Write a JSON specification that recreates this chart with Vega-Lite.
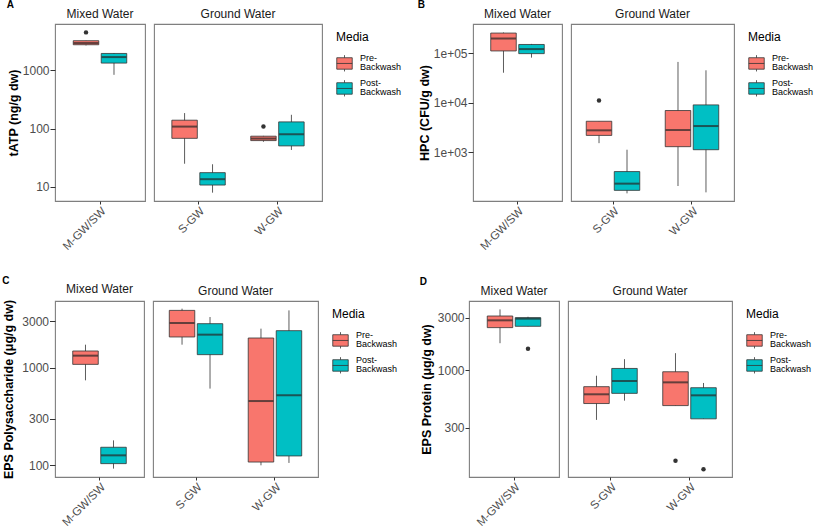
{
 "$schema": "https://vega.github.io/schema/vega-lite/v6.json",
 "padding": {"left": 2, "top": 0, "right": 0, "bottom": 0},
 "config": {
  "font": "Liberation Sans",
  "view": {"stroke": "#7F7F7F", "strokeWidth": 1.1},
  "rule": {"color": "#333333", "strokeWidth": 0.8},
  "tick": {"color": "#262626", "thickness": 2, "size": 25},
  "bar": {"stroke": "#333333", "strokeWidth": 0.8},
  "point": {"filled": true, "color": "#333333", "size": 20, "opacity": 1},
  "style": {"guide-label": {"lineHeight": 9}},
  "axisX": {"labelAngle": -45, "labelFontSize": 11.5, "labelColor": "#4D4D4D", "tickColor": "#333333", "tickSize": 3, "domain": false, "grid": false, "title": null, "labelPadding": 1},
  "axisY": {"labelFontSize": 12, "labelColor": "#4D4D4D", "tickColor": "#333333", "tickSize": 5, "domain": false, "grid": false, "titleFontSize": 12.5, "titleFontWeight": "bold", "titleColor": "#000000", "labelPadding": 1, "titlePadding": 2},
  "legend": {"titleFontSize": 12, "titleFontWeight": "normal", "titleColor": "#000000", "labelFontSize": 9, "labelColor": "#000000", "symbolType": "M-1,0.03H1V1.51H-1Z M-1,0.77H1 M0,0.03V-0.3 M0,1.51V1.8", "symbolSize": 240, "symbolStrokeColor": "#333333", "symbolStrokeWidth": 0.8, "symbolOpacity": 1, "offset": 6, "padding": 8, "labelOffset": 7, "titlePadding": 5}
 },
 "datasets": {
  "boxes": [
   {"p": "A", "w": "Mixed Water", "site": "M-GW/SW", "media": "Pre-Backwash", "lo": 2640, "q1": 2717, "med": 2904, "q3": 3185, "hi": 3185},
   {"p": "A", "w": "Mixed Water", "site": "M-GW/SW", "media": "Post-Backwash", "lo": 830, "q1": 1318, "med": 1670, "q3": 1927, "hi": 1960},
   {"p": "A", "w": "Ground Water", "site": "S-GW", "media": "Pre-Backwash", "lo": 25, "q1": 68, "med": 108, "q3": 139, "hi": 184},
   {"p": "A", "w": "Ground Water", "site": "S-GW", "media": "Post-Backwash", "lo": 8, "q1": 10.8, "med": 13.6, "q3": 17.6, "hi": 24.5},
   {"p": "A", "w": "Ground Water", "site": "W-GW", "media": "Pre-Backwash", "lo": 59.4, "q1": 62.2, "med": 67.4, "q3": 74, "hi": 75},
   {"p": "A", "w": "Ground Water", "site": "W-GW", "media": "Post-Backwash", "lo": 43, "q1": 50.5, "med": 80, "q3": 130, "hi": 172},
   {"p": "B", "w": "Mixed Water", "site": "M-GW/SW", "media": "Pre-Backwash", "lo": 40300, "q1": 111000, "med": 198000, "q3": 255000, "hi": 262000},
   {"p": "B", "w": "Mixed Water", "site": "M-GW/SW", "media": "Post-Backwash", "lo": 81300, "q1": 98000, "med": 121000, "q3": 150000, "hi": 154000},
   {"p": "B", "w": "Ground Water", "site": "S-GW", "media": "Pre-Backwash", "lo": 1520, "q1": 2180, "med": 2760, "q3": 4210, "hi": 4210},
   {"p": "B", "w": "Ground Water", "site": "S-GW", "media": "Post-Backwash", "lo": 147, "q1": 169, "med": 231, "q3": 405, "hi": 1120},
   {"p": "B", "w": "Ground Water", "site": "W-GW", "media": "Pre-Backwash", "lo": 207, "q1": 1290, "med": 2800, "q3": 6940, "hi": 66600},
   {"p": "B", "w": "Ground Water", "site": "W-GW", "media": "Post-Backwash", "lo": 154, "q1": 1120, "med": 3370, "q3": 9020, "hi": 45100},
   {"p": "C", "w": "Mixed Water", "site": "M-GW/SW", "media": "Pre-Backwash", "lo": 741, "q1": 1080, "med": 1326, "q3": 1480, "hi": 1718},
   {"p": "C", "w": "Mixed Water", "site": "M-GW/SW", "media": "Post-Backwash", "lo": 92.5, "q1": 104, "med": 126.5, "q3": 153, "hi": 180},
   {"p": "C", "w": "Ground Water", "site": "S-GW", "media": "Pre-Backwash", "lo": 1718, "q1": 2060, "med": 2865, "q3": 3855, "hi": 4015},
   {"p": "C", "w": "Ground Water", "site": "S-GW", "media": "Post-Backwash", "lo": 610, "q1": 1358, "med": 2175, "q3": 2818, "hi": 3297},
   {"p": "C", "w": "Ground Water", "site": "W-GW", "media": "Pre-Backwash", "lo": 100, "q1": 108, "med": 455, "q3": 2010, "hi": 2506},
   {"p": "C", "w": "Ground Water", "site": "W-GW", "media": "Post-Backwash", "lo": 105.7, "q1": 124.7, "med": 521, "q3": 2390, "hi": 3855},
   {"p": "D", "w": "Mixed Water", "site": "M-GW/SW", "media": "Pre-Backwash", "lo": 1755, "q1": 2430, "med": 2830, "q3": 3098, "hi": 3557},
   {"p": "D", "w": "Mixed Water", "site": "M-GW/SW", "media": "Post-Backwash", "lo": 2498, "q1": 2498, "med": 2930, "q3": 2993, "hi": 3050},
   {"p": "D", "w": "Ground Water", "site": "S-GW", "media": "Pre-Backwash", "lo": 353, "q1": 497, "med": 603, "q3": 707, "hi": 889},
   {"p": "D", "w": "Ground Water", "site": "S-GW", "media": "Post-Backwash", "lo": 528, "q1": 615, "med": 796, "q3": 1035, "hi": 1257},
   {"p": "D", "w": "Ground Water", "site": "W-GW", "media": "Pre-Backwash", "lo": 476, "q1": 476, "med": 774, "q3": 966, "hi": 1425},
   {"p": "D", "w": "Ground Water", "site": "W-GW", "media": "Post-Backwash", "lo": 361, "q1": 361, "med": 590, "q3": 692, "hi": 764}
  ],
  "outl": [
   {"p": "A", "w": "Mixed Water", "site": "M-GW/SW", "media": "Pre-Backwash", "v": 4420},
   {"p": "A", "w": "Ground Water", "site": "W-GW", "media": "Pre-Backwash", "v": 108},
   {"p": "B", "w": "Ground Water", "site": "S-GW", "media": "Pre-Backwash", "v": 11100},
   {"p": "D", "w": "Mixed Water", "site": "M-GW/SW", "media": "Post-Backwash", "v": 1560},
   {"p": "D", "w": "Ground Water", "site": "W-GW", "media": "Pre-Backwash", "v": 150},
   {"p": "D", "w": "Ground Water", "site": "W-GW", "media": "Post-Backwash", "v": 126}
  ]
 },
 "spacing": 22,
 "resolve": {"scale": {"color": "independent", "xOffset": "independent"}, "legend": {"color": "independent"}},
 "vconcat": [
  {
   "spacing": 6,
   "resolve": {"scale": {"color": "independent", "xOffset": "independent"}, "legend": {"color": "independent"}},
   "hconcat": [
    {
     "title": {"text": "A", "anchor": "start", "fontSize": 10, "fontWeight": "bold", "offset": -3, "color": "#000000"},
     "spacing": 7,
     "resolve": {"scale": {"color": "independent", "xOffset": "independent"}, "legend": {"color": "independent"}},
     "hconcat": [
      {
       "width": 90, "height": 177,
       "title": {"text": "Mixed Water", "fontSize": 12, "fontWeight": "normal", "color": "#1A1A1A", "offset": 3, "anchor": "middle"},
       "encoding": {
        "x": {"field": "site", "type": "nominal", "title": null, "scale": {"paddingInner": 0, "paddingOuter": 0.07}},
        "xOffset": {"field": "media", "type": "nominal", "scale": {"domain": ["Pre-Backwash", "Post-Backwash"], "paddingInner": 0.089, "paddingOuter": 0.455}}
       },
       "layer": [
        {"data": {"name": "boxes"}, "transform": [{"filter": "datum.p=='A' && datum.w=='Mixed Water'"}], "mark": "rule",
         "encoding": {"y": {"field": "lo", "type": "quantitative", "title": "tATP (ng/g dw)", "scale": {"type": "log", "domain": [5.76, 6150], "nice": false}, "axis": {"values": [10, 100, 1000], "format": "d"}}, "y2": {"field": "hi"}}},
        {"data": {"name": "boxes"}, "transform": [{"filter": "datum.p=='A' && datum.w=='Mixed Water'"}], "mark": "bar",
         "encoding": {"y": {"field": "q1", "type": "quantitative", "title": "tATP (ng/g dw)"}, "y2": {"field": "q3"}, "color": {"field": "media", "type": "nominal", "scale": {"domain": ["Pre-Backwash", "Post-Backwash"], "range": ["#F8766D", "#00BFC4"]}, "legend": null}}},
        {"data": {"name": "boxes"}, "transform": [{"filter": "datum.p=='A' && datum.w=='Mixed Water'"}], "mark": "tick",
         "encoding": {"y": {"field": "med", "type": "quantitative", "title": "tATP (ng/g dw)"}}},
        {"data": {"name": "outl"}, "transform": [{"filter": "datum.p=='A' && datum.w=='Mixed Water'"}], "mark": "point",
         "encoding": {"y": {"field": "v", "type": "quantitative", "title": "tATP (ng/g dw)"}}}
       ]
      },
      {
       "width": 168, "height": 177,
       "title": {"text": "Ground Water", "fontSize": 12, "fontWeight": "normal", "color": "#1A1A1A", "offset": 3, "anchor": "middle"},
       "encoding": {
        "x": {"field": "site", "type": "nominal", "title": null, "scale": {"paddingInner": 0, "paddingOuter": 0.065}},
        "xOffset": {"field": "media", "type": "nominal", "scale": {"domain": ["Pre-Backwash", "Post-Backwash"], "paddingInner": 0.089, "paddingOuter": 0.455}}
       },
       "layer": [
        {"data": {"name": "boxes"}, "transform": [{"filter": "datum.p=='A' && datum.w=='Ground Water'"}], "mark": "rule",
         "encoding": {"y": {"field": "lo", "type": "quantitative", "scale": {"type": "log", "domain": [5.76, 6150], "nice": false}, "axis": null}, "y2": {"field": "hi"}}},
        {"data": {"name": "boxes"}, "transform": [{"filter": "datum.p=='A' && datum.w=='Ground Water'"}], "mark": "bar",
         "encoding": {"y": {"field": "q1", "type": "quantitative", "axis": null}, "y2": {"field": "q3"}, "color": {"field": "media", "type": "nominal", "scale": {"domain": ["Pre-Backwash", "Post-Backwash"], "range": ["#F8766D", "#00BFC4"]},
          "legend": {"title": "Media", "rowPadding": -10, "labelExpr": "datum.label == 'Pre-Backwash' ? ['Pre-', '\u00a0Backwash'] : ['Post-', '\u00a0Backwash']"}}}},
        {"data": {"name": "boxes"}, "transform": [{"filter": "datum.p=='A' && datum.w=='Ground Water'"}], "mark": "tick",
         "encoding": {"y": {"field": "med", "type": "quantitative", "axis": null}}},
        {"data": {"name": "outl"}, "transform": [{"filter": "datum.p=='A' && datum.w=='Ground Water'"}], "mark": "point",
         "encoding": {"y": {"field": "v", "type": "quantitative", "axis": null}}}
       ]
      }
     ]
    },
    {
     "title": {"text": "B", "anchor": "start", "fontSize": 10, "fontWeight": "bold", "offset": -3, "color": "#000000"},
     "spacing": 7,
     "resolve": {"scale": {"color": "independent", "xOffset": "independent"}, "legend": {"color": "independent"}},
     "hconcat": [
      {
       "width": 89, "height": 177,
       "title": {"text": "Mixed Water", "fontSize": 12, "fontWeight": "normal", "color": "#1A1A1A", "offset": 3, "anchor": "middle"},
       "encoding": {
        "x": {"field": "site", "type": "nominal", "title": null, "scale": {"paddingInner": 0, "paddingOuter": 0.063}},
        "xOffset": {"field": "media", "type": "nominal", "scale": {"domain": ["Pre-Backwash", "Post-Backwash"], "paddingInner": 0.089, "paddingOuter": 0.455}}
       },
       "layer": [
        {"data": {"name": "boxes"}, "transform": [{"filter": "datum.p=='B' && datum.w=='Mixed Water'"}], "mark": "rule",
         "encoding": {"y": {"field": "lo", "type": "quantitative", "title": "HPC (CFU/g dw)", "scale": {"type": "log", "domain": [103, 389000], "nice": false}, "axis": {"values": [1000, 10000, 100000], "labelExpr": "datum.value < 5000 ? '1e+03' : datum.value < 50000 ? '1e+04' : '1e+05'"}}, "y2": {"field": "hi"}}},
        {"data": {"name": "boxes"}, "transform": [{"filter": "datum.p=='B' && datum.w=='Mixed Water'"}], "mark": "bar",
         "encoding": {"y": {"field": "q1", "type": "quantitative", "title": "HPC (CFU/g dw)"}, "y2": {"field": "q3"}, "color": {"field": "media", "type": "nominal", "scale": {"domain": ["Pre-Backwash", "Post-Backwash"], "range": ["#F8766D", "#00BFC4"]}, "legend": null}}},
        {"data": {"name": "boxes"}, "transform": [{"filter": "datum.p=='B' && datum.w=='Mixed Water'"}], "mark": "tick",
         "encoding": {"y": {"field": "med", "type": "quantitative", "title": "HPC (CFU/g dw)"}}},
        {"data": {"name": "outl"}, "transform": [{"filter": "datum.p=='B' && datum.w=='Mixed Water'"}], "mark": "point",
         "encoding": {"y": {"field": "v", "type": "quantitative", "title": "HPC (CFU/g dw)"}}}
       ]
      },
      {
       "width": 163, "height": 177,
       "title": {"text": "Ground Water", "fontSize": 12, "fontWeight": "normal", "color": "#1A1A1A", "offset": 3, "anchor": "middle"},
       "encoding": {
        "x": {"field": "site", "type": "nominal", "title": null, "scale": {"paddingInner": 0, "paddingOuter": 0.032}},
        "xOffset": {"field": "media", "type": "nominal", "scale": {"domain": ["Pre-Backwash", "Post-Backwash"], "paddingInner": 0.089, "paddingOuter": 0.455}}
       },
       "layer": [
        {"data": {"name": "boxes"}, "transform": [{"filter": "datum.p=='B' && datum.w=='Ground Water'"}], "mark": "rule",
         "encoding": {"y": {"field": "lo", "type": "quantitative", "scale": {"type": "log", "domain": [103, 389000], "nice": false}, "axis": null}, "y2": {"field": "hi"}}},
        {"data": {"name": "boxes"}, "transform": [{"filter": "datum.p=='B' && datum.w=='Ground Water'"}], "mark": "bar",
         "encoding": {"y": {"field": "q1", "type": "quantitative", "axis": null}, "y2": {"field": "q3"}, "color": {"field": "media", "type": "nominal", "scale": {"domain": ["Pre-Backwash", "Post-Backwash"], "range": ["#F8766D", "#00BFC4"]},
          "legend": {"title": "Media", "rowPadding": -10, "labelExpr": "datum.label == 'Pre-Backwash' ? ['Pre-', '\u00a0Backwash'] : ['Post-', '\u00a0Backwash']"}}}},
        {"data": {"name": "boxes"}, "transform": [{"filter": "datum.p=='B' && datum.w=='Ground Water'"}], "mark": "tick",
         "encoding": {"y": {"field": "med", "type": "quantitative", "axis": null}}},
        {"data": {"name": "outl"}, "transform": [{"filter": "datum.p=='B' && datum.w=='Ground Water'"}], "mark": "point",
         "encoding": {"y": {"field": "v", "type": "quantitative", "axis": null}}}
       ]
      }
     ]
    }
   ]
  },
  {
   "spacing": 12,
   "resolve": {"scale": {"color": "independent", "xOffset": "independent"}, "legend": {"color": "independent"}},
   "hconcat": [
    {
     "title": {"text": "C", "anchor": "start", "fontSize": 10, "fontWeight": "bold", "offset": -3, "color": "#000000"},
     "spacing": 7,
     "resolve": {"scale": {"color": "independent", "xOffset": "independent"}, "legend": {"color": "independent"}},
     "hconcat": [
      {
       "width": 89, "height": 176,
       "title": {"text": "Mixed Water", "fontSize": 12, "fontWeight": "normal", "color": "#1A1A1A", "offset": 3, "anchor": "middle"},
       "encoding": {
        "x": {"field": "site", "type": "nominal", "title": null, "scale": {"paddingInner": 0, "paddingOuter": 0.063}},
        "xOffset": {"field": "media", "type": "nominal", "scale": {"domain": ["Pre-Backwash", "Post-Backwash"], "paddingInner": 0.089, "paddingOuter": 0.455}}
       },
       "layer": [
        {"data": {"name": "boxes"}, "transform": [{"filter": "datum.p=='C' && datum.w=='Mixed Water'"}], "mark": "rule",
         "encoding": {"y": {"field": "lo", "type": "quantitative", "title": "EPS Polysaccharide (μg/g dw)", "scale": {"type": "log", "domain": [75.9, 4810], "nice": false}, "axis": {"values": [100, 300, 1000, 3000], "format": "d", "titlePadding": 6, "tickSize": 5.5}}, "y2": {"field": "hi"}}},
        {"data": {"name": "boxes"}, "transform": [{"filter": "datum.p=='C' && datum.w=='Mixed Water'"}], "mark": "bar",
         "encoding": {"y": {"field": "q1", "type": "quantitative", "title": "EPS Polysaccharide (μg/g dw)"}, "y2": {"field": "q3"}, "color": {"field": "media", "type": "nominal", "scale": {"domain": ["Pre-Backwash", "Post-Backwash"], "range": ["#F8766D", "#00BFC4"]}, "legend": null}}},
        {"data": {"name": "boxes"}, "transform": [{"filter": "datum.p=='C' && datum.w=='Mixed Water'"}], "mark": "tick",
         "encoding": {"y": {"field": "med", "type": "quantitative", "title": "EPS Polysaccharide (μg/g dw)"}}},
        {"data": {"name": "outl"}, "transform": [{"filter": "datum.p=='C' && datum.w=='Mixed Water'"}], "mark": "point",
         "encoding": {"y": {"field": "v", "type": "quantitative", "title": "EPS Polysaccharide (μg/g dw)"}}}
       ]
      },
      {
       "width": 165, "height": 176,
       "title": {"text": "Ground Water", "fontSize": 12, "fontWeight": "normal", "color": "#1A1A1A", "offset": 3, "anchor": "middle"},
       "encoding": {
        "x": {"field": "site", "type": "nominal", "title": null, "scale": {"paddingInner": 0, "paddingOuter": 0.045}},
        "xOffset": {"field": "media", "type": "nominal", "scale": {"domain": ["Pre-Backwash", "Post-Backwash"], "paddingInner": 0.089, "paddingOuter": 0.455}}
       },
       "layer": [
        {"data": {"name": "boxes"}, "transform": [{"filter": "datum.p=='C' && datum.w=='Ground Water'"}], "mark": "rule",
         "encoding": {"y": {"field": "lo", "type": "quantitative", "scale": {"type": "log", "domain": [75.9, 4810], "nice": false}, "axis": null}, "y2": {"field": "hi"}}},
        {"data": {"name": "boxes"}, "transform": [{"filter": "datum.p=='C' && datum.w=='Ground Water'"}], "mark": "bar",
         "encoding": {"y": {"field": "q1", "type": "quantitative", "axis": null}, "y2": {"field": "q3"}, "color": {"field": "media", "type": "nominal", "scale": {"domain": ["Pre-Backwash", "Post-Backwash"], "range": ["#F8766D", "#00BFC4"]},
          "legend": {"title": "Media", "rowPadding": -10, "labelExpr": "datum.label == 'Pre-Backwash' ? ['Pre-', '\u00a0Backwash'] : ['Post-', '\u00a0Backwash']"}}}},
        {"data": {"name": "boxes"}, "transform": [{"filter": "datum.p=='C' && datum.w=='Ground Water'"}], "mark": "tick",
         "encoding": {"y": {"field": "med", "type": "quantitative", "axis": null}}},
        {"data": {"name": "outl"}, "transform": [{"filter": "datum.p=='C' && datum.w=='Ground Water'"}], "mark": "point",
         "encoding": {"y": {"field": "v", "type": "quantitative", "axis": null}}}
       ]
      }
     ]
    },
    {
     "title": {"text": "D", "anchor": "start", "fontSize": 10, "fontWeight": "bold", "offset": -3, "color": "#000000"},
     "spacing": 7,
     "resolve": {"scale": {"color": "independent", "xOffset": "independent"}, "legend": {"color": "independent"}},
     "hconcat": [
      {
       "width": 90, "height": 176,
       "title": {"text": "Mixed Water", "fontSize": 12, "fontWeight": "normal", "color": "#1A1A1A", "offset": 3, "anchor": "middle"},
       "encoding": {
        "x": {"field": "site", "type": "nominal", "title": null, "scale": {"paddingInner": 0, "paddingOuter": 0.07}},
        "xOffset": {"field": "media", "type": "nominal", "scale": {"domain": ["Pre-Backwash", "Post-Backwash"], "paddingInner": 0.089, "paddingOuter": 0.455}}
       },
       "layer": [
        {"data": {"name": "boxes"}, "transform": [{"filter": "datum.p=='D' && datum.w=='Mixed Water'"}], "mark": "rule",
         "encoding": {"y": {"field": "lo", "type": "quantitative", "title": "EPS Protein (μg/g dw)", "scale": {"type": "log", "domain": [107, 4240], "nice": false}, "axis": {"values": [300, 1000, 3000], "format": "d", "titlePadding": 4, "tickSize": 4}}, "y2": {"field": "hi"}}},
        {"data": {"name": "boxes"}, "transform": [{"filter": "datum.p=='D' && datum.w=='Mixed Water'"}], "mark": "bar",
         "encoding": {"y": {"field": "q1", "type": "quantitative", "title": "EPS Protein (μg/g dw)"}, "y2": {"field": "q3"}, "color": {"field": "media", "type": "nominal", "scale": {"domain": ["Pre-Backwash", "Post-Backwash"], "range": ["#F8766D", "#00BFC4"]}, "legend": null}}},
        {"data": {"name": "boxes"}, "transform": [{"filter": "datum.p=='D' && datum.w=='Mixed Water'"}], "mark": "tick",
         "encoding": {"y": {"field": "med", "type": "quantitative", "title": "EPS Protein (μg/g dw)"}}},
        {"data": {"name": "outl"}, "transform": [{"filter": "datum.p=='D' && datum.w=='Mixed Water'"}], "mark": "point",
         "encoding": {"y": {"field": "v", "type": "quantitative", "title": "EPS Protein (μg/g dw)"}}}
       ]
      },
      {
       "width": 164, "height": 176,
       "title": {"text": "Ground Water", "fontSize": 12, "fontWeight": "normal", "color": "#1A1A1A", "offset": 3, "anchor": "middle"},
       "encoding": {
        "x": {"field": "site", "type": "nominal", "title": null, "scale": {"paddingInner": 0, "paddingOuter": 0.038}},
        "xOffset": {"field": "media", "type": "nominal", "scale": {"domain": ["Pre-Backwash", "Post-Backwash"], "paddingInner": 0.089, "paddingOuter": 0.455}}
       },
       "layer": [
        {"data": {"name": "boxes"}, "transform": [{"filter": "datum.p=='D' && datum.w=='Ground Water'"}], "mark": "rule",
         "encoding": {"y": {"field": "lo", "type": "quantitative", "scale": {"type": "log", "domain": [107, 4240], "nice": false}, "axis": null}, "y2": {"field": "hi"}}},
        {"data": {"name": "boxes"}, "transform": [{"filter": "datum.p=='D' && datum.w=='Ground Water'"}], "mark": "bar",
         "encoding": {"y": {"field": "q1", "type": "quantitative", "axis": null}, "y2": {"field": "q3"}, "color": {"field": "media", "type": "nominal", "scale": {"domain": ["Pre-Backwash", "Post-Backwash"], "range": ["#F8766D", "#00BFC4"]},
          "legend": {"title": "Media", "rowPadding": -10, "labelExpr": "datum.label == 'Pre-Backwash' ? ['Pre-', '\u00a0Backwash'] : ['Post-', '\u00a0Backwash']"}}}},
        {"data": {"name": "boxes"}, "transform": [{"filter": "datum.p=='D' && datum.w=='Ground Water'"}], "mark": "tick",
         "encoding": {"y": {"field": "med", "type": "quantitative", "axis": null}}},
        {"data": {"name": "outl"}, "transform": [{"filter": "datum.p=='D' && datum.w=='Ground Water'"}], "mark": "point",
         "encoding": {"y": {"field": "v", "type": "quantitative", "axis": null}}}
       ]
      }
     ]
    }
   ]
  }
 ]
}
